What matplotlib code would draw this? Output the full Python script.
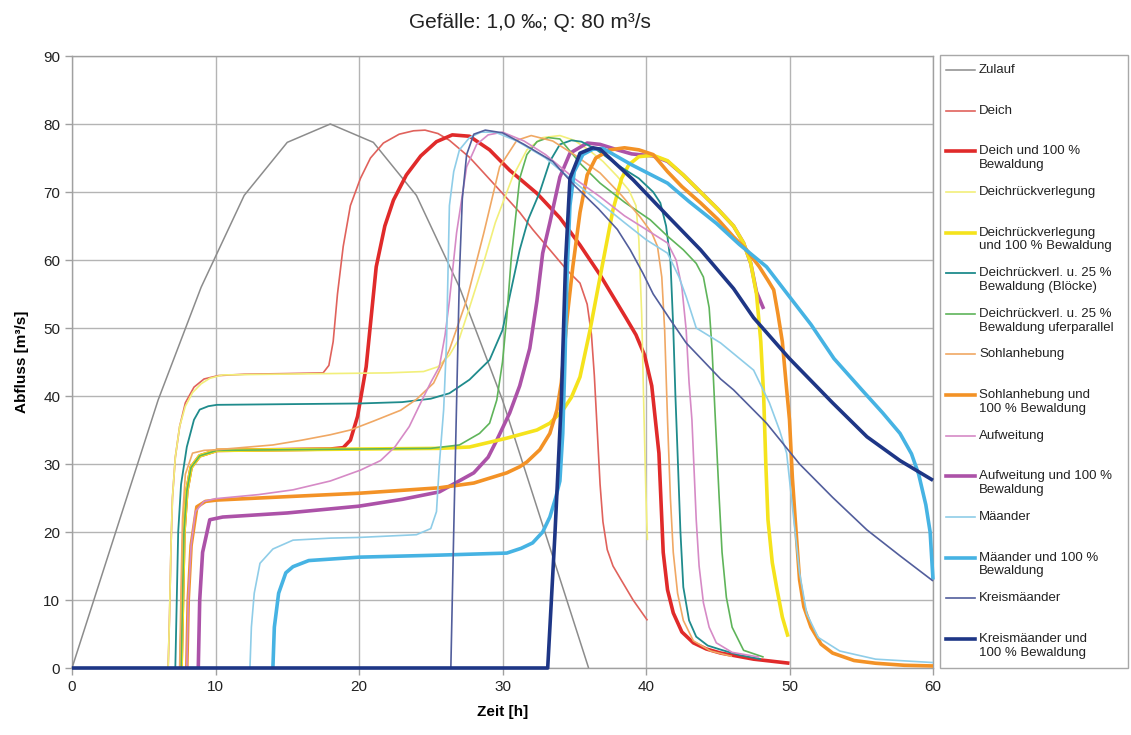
import matplotlib
matplotlib.use("Agg")
import matplotlib.pyplot as plt
from matplotlib.lines import Line2D
from matplotlib.patches import Rectangle

plt.rcParams['font.family'] = ['Liberation Sans', 'DejaVu Sans']

# ---------------- data (Zeit [h], Abfluss [m³/s]) ----------------
t_zulauf = [0, 3, 6, 9, 12, 15, 18, 21, 24, 27, 30, 33, 36]
q_zulauf = [0, 19.7, 39.4, 56, 69.5, 77.3, 80, 77.3, 69.5, 56, 39.4, 19.7, 0]

t_deich = [6.7, 6.8, 6.9, 7.0, 7.2, 7.5, 7.9, 8.5, 9.2, 10.2, 12, 15, 17.5, 17.9, 18.2, 18.5, 18.9, 19.4,
           20.1, 20.8, 21.7, 22.8, 23.8, 24.6, 25.5, 26.3, 27.7, 28.7, 30, 31.2, 32.1, 33.3, 34.5, 35.4,
           35.9, 36.2, 36.4, 36.6, 36.8, 37.0, 37.3, 37.7, 38.2, 39.1, 40.1]
q_deich = [0, 8, 18, 25, 31, 35.5, 39, 41.3, 42.5, 43, 43.2, 43.3, 43.4, 44.5, 48, 55, 62, 68,
           72, 75, 77.2, 78.5, 79, 79.1, 78.6, 77.6, 75.1, 72.8, 69.8, 67, 64.5, 61.5, 58.5, 56.6,
           53.5, 49, 43, 35, 27, 21.5, 17.4, 15, 13.2, 10, 7]

t_deich_w = [7.6, 7.7, 7.8, 8.0, 8.3, 8.9, 10.1, 14, 18, 18.9, 19.4, 19.9, 20.5, 21.2, 21.8, 22.4, 23.3,
             24.3, 25.4, 26.5, 27.7, 29.1, 30.5, 32.4, 34, 35.4, 36.8, 37.8, 38.6, 39.3, 39.9, 40.4,
             40.9, 41.2, 41.5, 41.9, 42.5, 43.3, 44.2, 45.2, 47.5, 50]
q_deich_w = [0, 10, 20, 26, 29.5, 31.2, 32, 32.1, 32.2, 32.4, 33.5, 37, 44.3, 59, 65, 68.8, 72.5,
             75.3, 77.4, 78.4, 78.2, 76.2, 73.2, 69.8, 66.2, 62.2, 57.8, 54.3, 51.5, 49, 46, 41.5,
             31.6, 17, 11.5, 8.1, 5.3, 3.7, 2.8, 2.2, 1.3, 0.7]

t_drv = [6.7, 6.8, 6.9, 7.0, 7.2, 7.5, 7.9, 8.4, 9.0, 9.6, 10.5, 14, 18, 22, 24.5, 25.5, 26.3, 27.0,
         27.7, 28.6, 29.5, 30.7, 31.7, 32.8, 34, 35, 36, 37, 38, 38.8, 39.3, 39.5, 39.7, 39.85, 40.0, 40.1]
q_drv = [0, 8, 18, 25, 31, 35.5, 38.5, 40.5, 41.8, 42.6, 43.1, 43.2, 43.3, 43.4, 43.6, 44.3, 46, 48.5,
         53, 59, 65.5, 72.2, 76.2, 78, 78.3, 77.6, 76.2, 74.5, 72.3, 70.3, 68, 63, 52, 38, 25, 18.8]

t_drv_w = [7.6, 7.7, 7.8, 8.0, 8.3, 8.9, 10.1, 15, 20, 25.6, 27.7, 30.3, 32.4, 33.3, 34.2, 34.8, 35.4,
           36.1, 36.8, 37.7, 38.3, 38.8, 39.5, 40.5, 41.5, 42.6, 43.8, 45, 46.1, 46.8, 47.3, 47.7, 48.0,
           48.2, 48.35, 48.5, 48.8, 49.1, 49.5, 49.9]
q_drv_w = [0, 10, 20, 26, 29.5, 31.2, 32, 32.1, 32.2, 32.3, 32.5, 33.8, 35, 36, 37.9, 39.8, 42.8,
           49.7, 57.5, 67.4, 72, 74, 75.2, 75.4, 74.6, 72.5, 70, 67.5, 65, 62.5, 59.5, 55, 48,
           40, 30, 21.8, 15.5, 11.9, 7.5, 4.6]

t_bloecke = [7.2, 7.3, 7.4, 7.6, 8.0, 8.5, 8.9, 9.5, 10.1, 15, 20, 23, 25, 26.3, 27.7, 29.1, 30, 30.7,
             31.2, 31.8, 32.6, 33.3, 34, 34.8, 35.5, 36.5, 38, 39.5, 40.5, 41, 41.4, 41.7, 41.9, 42.05,
             42.2, 42.4, 42.6, 43, 43.5, 44.3, 45.2, 46.5, 48]
q_bloecke = [0, 10, 20, 27, 32.5, 36.5, 38, 38.5, 38.7, 38.8, 38.9, 39.1, 39.6, 40.4, 42.4, 45.3, 49.7, 56.6,
             61.5, 66, 70, 74.5, 77, 77.6, 77.4, 76.3, 74, 72, 70, 68.4, 65, 60, 50, 40,
             31.6, 20, 11.9, 7, 4.6, 3.3, 2.7, 1.9, 1.3]

t_ufer = [7.6, 7.7, 7.8, 8.0, 8.3, 8.9, 10.1, 15, 20, 25, 27, 28.4, 29.1, 29.6, 30, 30.3, 30.6, 30.9, 31.2,
          31.7, 32.4, 33.2, 34, 35.5, 36.8, 38.5, 40.3, 41.5, 42.6, 43.5, 44, 44.4, 44.6, 44.8, 45.1,
          45.3, 45.6, 46, 46.8, 48.2]
q_ufer = [0, 10, 20, 26, 29.5, 31.2, 32, 32.1, 32.2, 32.3, 32.8, 34.5, 36, 39.4, 45, 51.7, 60, 66, 72,
          75.5, 77.4, 78, 77.8, 74, 71.3, 68.5, 65.9, 63.5, 61.5, 59.5, 57.5, 53, 47, 38, 25,
          17, 10.4, 6, 2.6, 1.6]

t_sohle = [7.5, 7.6, 7.7, 7.9, 8.4, 9.2, 10.1, 14, 16, 18, 19.4, 21, 22.9, 24, 25.2, 26.3, 27.5, 28.7,
           29.8, 31, 32, 33.5, 35, 36.8, 38.3, 39.6, 40.4, 40.8, 41.1, 41.3, 41.5, 41.7, 41.9, 42.2,
           42.6, 43.3, 44.5, 46]
q_sohle = [0, 12, 22, 28.5, 31.6, 32, 32.1, 32.8, 33.5, 34.3, 35, 36.3, 37.9, 39.5, 41.9, 46.8, 54.1, 64,
           73.7, 77.6, 78.3, 77.5, 75.5, 72.8, 69.5, 66.3, 64, 62, 57.5, 49.7, 36.5, 25, 17, 11,
           7, 4, 2.5, 1.7]

t_sohle_w = [8.0, 8.1, 8.3, 8.7, 9.3, 10.1, 15, 20, 25.6, 28, 30.3, 31.2, 31.7, 32.6, 33.3, 33.8, 34.1,
             34.5, 34.9, 35.4, 35.9, 36.5, 37.5, 38.5, 39.5, 40.5, 41.5, 42.5, 43.8, 45, 46.1, 47, 47.9,
             48.5, 48.9, 49.2, 49.5, 49.8, 50, 50.2, 50.4, 50.7, 51, 51.5, 52.2, 53, 54.5, 56, 58, 60]
q_sohle_w = [0, 10, 18, 23.7, 24.5, 24.7, 25.2, 25.7, 26.5, 27.2, 28.7, 29.6, 30.3, 32.1, 34.5, 38, 42,
             51.5, 59, 67, 72.5, 75, 76.2, 76.5, 76.2, 75.5, 73, 70.8, 68.4, 66, 63.4, 61.5, 59,
             57, 55.6, 52, 48, 41, 36.5, 28, 21.8, 13, 9, 6, 3.5, 2.2, 1.1, 0.7, 0.4, 0.3]

t_aufw = [8.0, 8.1, 8.3, 8.6, 9.2, 10, 13, 15.4, 18, 20.1, 21.5, 22.5, 23.5, 24.3, 25, 25.6, 26, 26.3,
          26.8, 27.5, 28.2, 29, 30, 31.5, 33, 35, 36.8, 38.5, 40, 41.5, 42.1, 42.5, 42.8, 43, 43.2,
          43.5, 43.7, 44, 44.4, 44.9, 46, 47.9]
q_aufw = [0, 10, 18, 23, 24.5, 24.9, 25.5, 26.2, 27.5, 29.1, 30.5, 32.5, 35.5, 39, 42, 44.3, 49, 54,
          64, 73.7, 77, 78.4, 78.8, 77.5, 75.5, 72, 69.3, 66.5, 64.5, 62.5, 60, 56, 49.7, 42, 36.5,
          21.8, 15, 9.6, 6, 3.7, 2.3, 1.6]

t_aufw_w = [8.8, 8.9, 9.1, 9.6, 10.5, 15, 20, 23, 25.6, 28, 29, 29.6, 30.5, 31.2, 31.9, 32.4, 32.8,
            33.3, 34, 34.7, 35.9, 36.8, 38, 39, 40.5, 41.5, 42.6, 43.8, 45, 46.1, 46.8, 47.3, 47.7, 48.2]
q_aufw_w = [0, 10, 17, 21.8, 22.2, 22.8, 23.8, 24.8, 25.9, 28.7, 31, 33.5, 37.5, 41.5, 47, 54, 61,
            65.5, 72.2, 75.7, 77.2, 77, 76.2, 75.6, 75.3, 74.5, 72.5, 70, 67.5, 65, 62.5, 59.5, 55.3, 52.8]

t_maeander = [12.4, 12.5, 12.7, 13.1, 14, 15.4, 18, 20, 24, 25, 25.4, 25.6, 25.9, 26.1, 26.2, 26.3, 26.6,
              27, 27.7, 28.5, 29.5, 31, 33, 35, 36.8, 38.5, 40, 41.5, 42.3, 42.8, 43.5, 45.2, 47.5,
              48.6, 49.3, 49.8, 50.3, 50.7, 51.2, 52, 53.5, 56, 60]
q_maeander = [0, 6, 11, 15.4, 17.5, 18.8, 19.1, 19.2, 19.6, 20.5, 23, 30, 38, 48, 58, 68, 73,
              76.2, 78, 78.8, 78.8, 77.5, 75, 71.5, 68.4, 65.5, 63, 61, 57.5, 54.6, 50, 47.8, 43.8,
              39, 35, 31.6, 21.8, 14, 8, 4.5, 2.5, 1.3, 0.8]

t_maeander_w = [14, 14.1, 14.4, 14.9, 15.4, 16.5, 20, 25.6, 30.3, 31.3, 32.1, 32.8, 33.3, 33.7, 34,
                34.2, 34.35, 34.5, 34.7, 35, 35.6, 36.3, 37, 39, 41.5, 43, 44.9, 46.5, 48.4, 50, 51.5,
                53.1, 55, 56.5, 57.7, 58.5, 59, 59.5, 59.8, 60]
q_maeander_w = [0, 6, 11, 14, 14.9, 15.8, 16.3, 16.6, 16.9, 17.6, 18.4, 20, 22.2, 25, 27.5,
                34.5, 45, 58, 68, 73, 75.5, 76.3, 76.4, 74, 71.3, 68.6, 65.4, 62.3, 59, 54.6, 50.5,
                45.5, 41, 37.5, 34.5, 31.5, 28.5, 24, 20, 13]

t_kreis = [0, 26.4, 26.6, 26.8, 27.0, 27.2, 27.5, 28, 28.8, 30, 31.5, 33.5, 35, 36.7, 38, 38.9, 39.8,
           40.5, 41.7, 42.8, 45.2, 46.1, 48.4, 50.7, 53, 55.4, 57.7, 60]
q_kreis = [0, 0, 20, 39, 58, 69, 75.5, 78.5, 79.1, 78.7, 77, 74.5, 71, 67.5, 64.5, 61.5, 58,
           55, 51.2, 47.8, 42.5, 40.9, 36, 30, 25.1, 20.3, 16.5, 12.8]

t_kreis_w = [0, 33.15, 33.65, 34.1, 34.4, 34.7, 35.4, 36.3, 36.8, 39.1, 41.5, 43.8, 46.1, 47.5, 50, 53,
             55.4, 57.7, 60]
q_kreis_w = [0, 0, 19.5, 39.4, 60, 72, 75.7, 76.5, 76.3, 71.8, 66.5, 61.5, 55.8, 51.5, 45.5, 39,
             34, 30.5, 27.6]

labels = ["Zulauf", "Deich", "Deich und 100 %\nBewaldung", "Deichrückverlegung",
          "Deichrückverlegung\nund 100 % Bewaldung", "Deichrückverl. u. 25 %\nBewaldung (Blöcke)",
          "Deichrückverl. u. 25 %\nBewaldung uferparallel", "Sohlanhebung",
          "Sohlanhebung und\n100 % Bewaldung", "Aufweitung", "Aufweitung und 100 %\nBewaldung",
          "Mäander", "Mäander und 100 %\nBewaldung", "Kreismäander",
          "Kreismäander und\n100 % Bewaldung"]

series = [(t_zulauf, q_zulauf), (t_deich, q_deich), (t_deich_w, q_deich_w), (t_drv, q_drv),
          (t_drv_w, q_drv_w), (t_bloecke, q_bloecke), (t_ufer, q_ufer), (t_sohle, q_sohle),
          (t_sohle_w, q_sohle_w), (t_aufw, q_aufw), (t_aufw_w, q_aufw_w), (t_maeander, q_maeander),
          (t_maeander_w, q_maeander_w), (t_kreis, q_kreis), (t_kreis_w, q_kreis_w)]

colors = ["#8c8c8c", "#e0625c", "#e02a2a", "#f2ef7a", "#f5e31c", "#1f8b8c", "#5fb45a", "#f0a864",
          "#f39226", "#d68ac6", "#ac52a8", "#8fcde8", "#46b3e3", "#525e9c", "#1e3686"]
widths = [1.1, 1.2, 2.6, 1.2, 2.6, 1.3, 1.2, 1.2, 2.6, 1.2, 2.6, 1.2, 2.6, 1.2, 2.6]
# drawing order (purple thick sits beneath the thick yellow line)
zorders = [3.0, 3.1, 3.2, 3.3, 3.45, 3.5, 3.6, 3.7, 3.8, 3.9, 3.4, 4.1, 4.2, 4.3, 4.4]

W, H = 1131, 735
fig = plt.figure(figsize=(W / 100, H / 100), dpi=100)
ax = fig.add_axes([72 / W, 1 - 668 / H, (933 - 72) / W, (668 - 56) / H])

for (t, q), c, lw, z in zip(series, colors, widths, zorders):
    ax.plot(t, q, color=c, lw=lw, zorder=z, clip_on=False,
            solid_joinstyle='round', solid_capstyle='butt')

ax.set_xlim(0, 60)
ax.set_ylim(0, 90)
ax.set_xticks(range(0, 61, 10))
ax.set_yticks(range(0, 91, 10))
ax.grid(True, color="#b4b4b4", lw=1.0, zorder=0)
for s in ax.spines.values():
    s.set_color("#a0a0a0")
    s.set_linewidth(1.0)
ax.tick_params(axis='both', colors="#a0a0a0", labelcolor="#222222", labelsize=11, length=5, width=1)
ax.set_xlabel("Zeit [h]", fontsize=11, fontweight='bold', labelpad=8)
ax.set_ylabel("Abfluss [m³/s]", fontsize=11, fontweight='bold', labelpad=10)
fig.text(530 / W, 1 - 23 / H, "Gefälle: 1,0 ‰; Q: 80 m³/s", fontsize=15, ha='center', va='center',
         color="#222222")

# legend drawn manually to mimic the stacked slots
fig.add_artist(Rectangle((940 / W, 1 - 668 / H), (1128 - 940) / W, (668 - 55) / H,
                         transform=fig.transFigure, fill=False, edgecolor="#a8a8a8", lw=1.0))
slot0, step = 70, 40.64
for lab, c, lw in zip(labels, colors, widths):
    yy = slot0
    fig.add_artist(Line2D([946 / W, 975 / W], [1 - yy / H, 1 - yy / H], transform=fig.transFigure,
                          color=c, lw=lw))
    fig.text(979 / W, 1 - (yy - 6) / H, lab, fontsize=9.5, ha='left', va='top', color="#222222",
             linespacing=1.2)
    slot0 += step

fig.savefig("out.png", dpi=100)
